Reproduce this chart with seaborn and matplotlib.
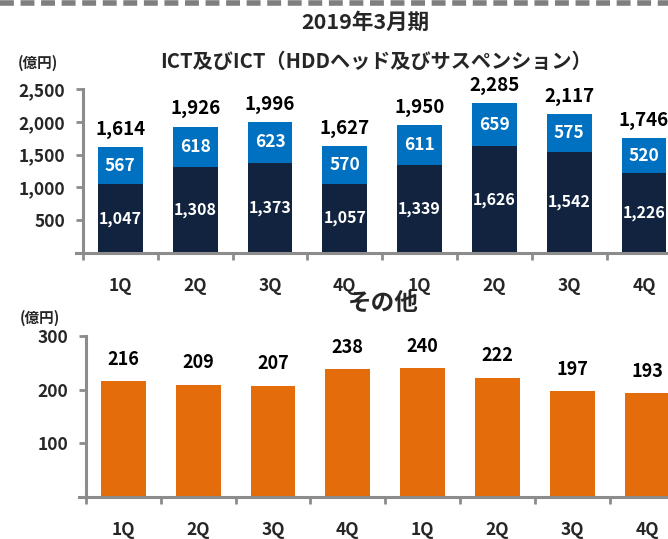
import matplotlib
matplotlib.use("Agg")
import matplotlib.pyplot as plt
from matplotlib.lines import Line2D
from matplotlib.ticker import FixedLocator, FuncFormatter
import seaborn as sns
import pandas as pd
import numpy as np

# ---- data ----
quarters = ["1Q", "2Q", "3Q", "4Q", "1Q", "2Q", "3Q", "4Q"]
ict_dark = [1047, 1308, 1373, 1057, 1339, 1626, 1542, 1226]   # ICT (HDD heads & suspension)
ict_light = [567, 618, 623, 570, 611, 659, 575, 520]          # ICT
other = [216, 209, 207, 238, 240, 222, 197, 193]
main_title = "2019年3月期"
top_title = "ICT及びICT（HDDヘッド及びサスペンション）"
bottom_title = "その他"
unit = "(億円)"

sns.set_theme(style="white")
FAM = ["Liberation Sans Narrow", "Noto Sans CJK JP", "DejaVu Sans"]
plt.rcParams["font.family"] = FAM
plt.rcParams["font.weight"] = "bold"

NAVY = "#12233F"
BLUE = "#0070C0"
ORANGE = "#E46C0A"
GRAY = "#8C8C8C"

W, H = 668, 539
fig = plt.figure(figsize=(W / 100, H / 100), dpi=100)

keys = [f"p{i}" for i in range(len(quarters))]
totals = [d + l for d, l in zip(ict_dark, ict_light)]
df = pd.DataFrame({"key": keys, "q": quarters, "dark": ict_dark,
                   "light": ict_light, "total": totals, "other": other})

slot = 74.8


def axes_rect(x_spine, y_base, y_top):
    left_px = x_spine - 0.1 * slot
    width_px = 8.1 * slot
    return [left_px / W, (H - y_base) / H, width_px / W, (y_base - y_top) / H]


def style_axis(ax, yticks, fmt):
    ax.set_xlim(-0.6, 7.5)
    for s in ["top", "right"]:
        ax.spines[s].set_visible(False)
    for s in ["left", "bottom"]:
        ax.spines[s].set_color(GRAY)
        ax.spines[s].set_linewidth(2.2)
    ax.spines["left"].set_position(("data", -0.5))
    ax.set_xticks(range(len(quarters)))
    ax.set_xticklabels(quarters, fontsize=12.5, fontweight="bold")
    ax.xaxis.set_minor_locator(FixedLocator(np.arange(-0.5, 8, 1.0)))
    ax.tick_params(axis="x", which="major", length=0, pad=17)
    ax.tick_params(axis="x", which="minor", length=5, width=2, color=GRAY, direction="out", bottom=True)
    ax.set_yticks(yticks)
    ax.yaxis.set_major_formatter(FuncFormatter(fmt))
    ax.tick_params(axis="y", length=5, width=2, color=GRAY, direction="out", left=True, pad=8, labelsize=12.5)
    for lab in ax.get_yticklabels():
        lab.set_fontweight("bold")
    ax.set_xlabel("")
    ax.set_ylabel("")
    ax.grid(False)
    ax.set_facecolor("none")


# ---- top chart ----
ax1 = fig.add_axes(axes_rect(83, 253, 89))
sns.barplot(data=df, x="key", y="total", order=keys, color=BLUE, saturation=1,
            width=0.6, ax=ax1, linewidth=0)
sns.barplot(data=df, x="key", y="dark", order=keys, color=NAVY, saturation=1,
            width=0.6, ax=ax1, linewidth=0)
ax1.set_ylim(0, 2500)
style_axis(ax1, [500, 1000, 1500, 2000, 2500], lambda v, p: f"{int(v):,}")
for i in range(len(keys)):
    ax1.text(i, ict_dark[i] / 2, f"{ict_dark[i]:,}", ha="center", va="center",
             color="white", fontsize=11.5, fontweight="bold")
    ax1.text(i, ict_dark[i] + ict_light[i] / 2, f"{ict_light[i]:,}", ha="center", va="center",
             color="white", fontsize=12.5, fontweight="bold")
    ax1.annotate(f"{totals[i]:,}", (i, totals[i]), xytext=(0, 6), textcoords="offset points",
                 ha="center", va="bottom", fontsize=13.5, fontweight="bold", color="black",
                 annotation_clip=False)

# ---- bottom chart ----
ax2 = fig.add_axes(axes_rect(86, 497, 336))
sns.barplot(data=df, x="key", y="other", order=keys, color=ORANGE, saturation=1,
            width=0.6, ax=ax2, linewidth=0)
ax2.set_ylim(0, 300)
style_axis(ax2, [100, 200, 300], lambda v, p: f"{int(v)}")
for i in range(len(keys)):
    ax2.annotate(f"{other[i]}", (i, other[i]), xytext=(0, 9), textcoords="offset points",
                 ha="center", va="bottom", fontsize=13, fontweight="bold", color="black",
                 annotation_clip=False)

# ---- titles / decorations ----
fig.text(365 / W, 1 - 22 / H, main_title, ha="center", va="center", fontsize=15.5, fontweight="bold")
fig.text(376 / W, 1 - 61 / H, top_title, ha="center", va="center", fontsize=14.5, fontweight="bold")
fig.text(38 / W, 1 - 63 / H, unit, ha="center", va="center", fontsize=10.5, fontweight="bold")
fig.text(383 / W, 1 - 303 / H, bottom_title, ha="center", va="center", fontsize=17, fontweight="bold")
fig.text(40 / W, 1 - 318 / H, unit, ha="center", va="center", fontsize=10.5, fontweight="bold")
fig.add_artist(Line2D([0, 1], [1 - 3 / H, 1 - 3 / H], transform=fig.transFigure,
                      color="#7F7F7F", linewidth=4, linestyle=(0, (2.5, 1.2))))

fig.savefig("out.png", dpi=100)
